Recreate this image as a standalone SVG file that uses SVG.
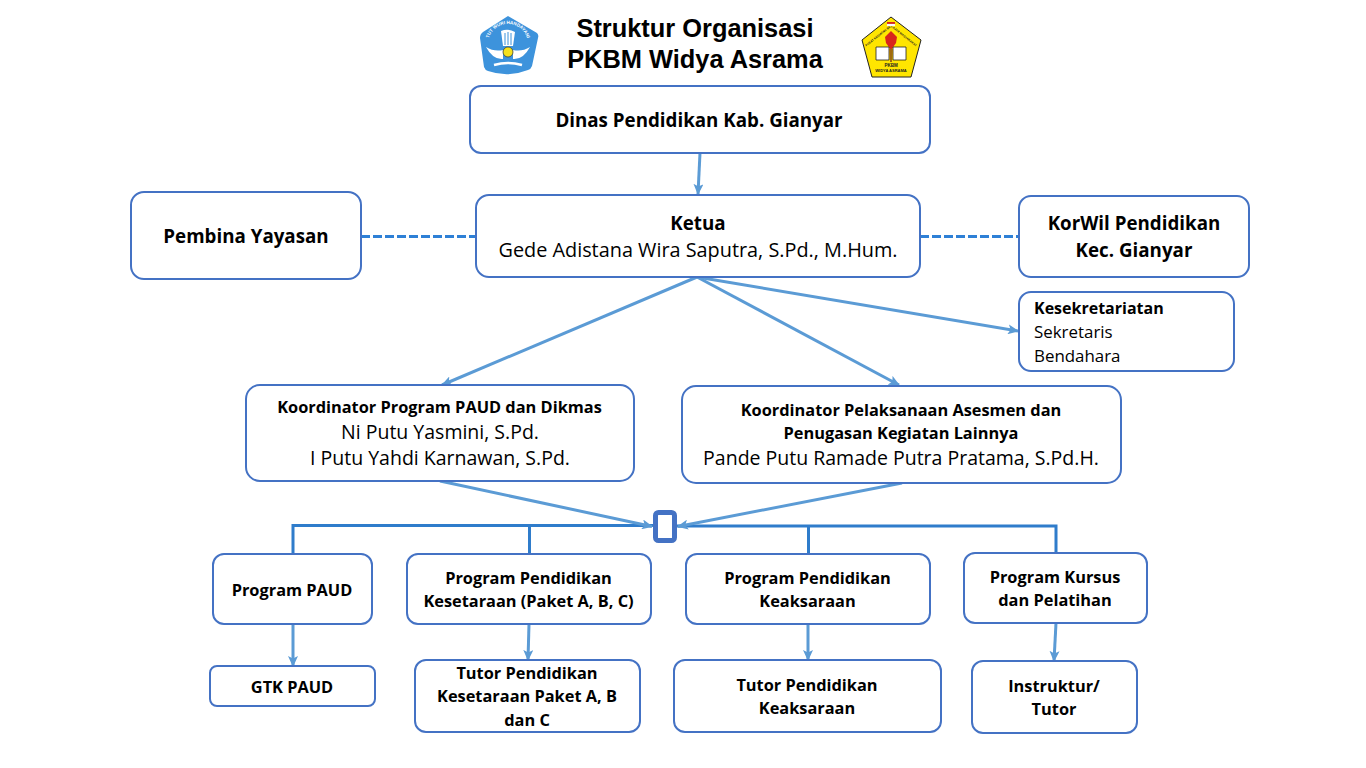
<svg xmlns="http://www.w3.org/2000/svg" width="1366" height="768" viewBox="0 0 1366 768">
<style>
.box{fill:#fff;stroke:#4472C4;stroke-width:2}
.t{font-family:"Open Sans","Noto Sans",sans-serif;fill:#000;text-anchor:middle}
.b{font-weight:700;font-size:16.35px}
.m{font-weight:700;font-size:18.75px}
.r{font-size:19.5px}
.s{font-size:16.9px;text-anchor:start}
.h{font-family:"Liberation Sans",Arial,sans-serif;font-weight:700;font-size:25.4px;text-anchor:middle;fill:#000}
.c{fill:none;stroke:#5B9BD5;stroke-width:3}
.d{fill:none;stroke:#2E80D6;stroke-width:3;stroke-dasharray:9 3}
.l{fill:none;stroke:#2F7CCB;stroke-width:3}
.lt{font-family:"Liberation Sans",Arial,sans-serif;font-weight:700;font-size:4.6px;fill:#fff;text-anchor:middle}
.lk{font-family:"Liberation Sans",Arial,sans-serif;font-weight:700;font-size:4.5px;fill:#222;text-anchor:middle}
</style>
<defs>
<marker id="a" markerUnits="userSpaceOnUse" markerWidth="12" markerHeight="10" refX="10" refY="5" orient="auto"><path d="M0 0L11 5L0 10L2.500 5Z" fill="#5B9BD5"/></marker>
<path id="arc1" d="M488 44A20 20 0 0 1 528 44"/>
<path id="arc2" d="M867 46L891 27L915 46"/>
</defs>
<rect width="1366" height="768" fill="#fff"/>
<g id="title">
<text class="h" x="695" y="37">Struktur Organisasi</text>
<text class="h" x="695" y="68">PKBM Widya Asrama</text>
</g>
<g id="logo-tutwuri">
<path d="M508 16L537 33Q539 35 538 38L532 66Q531 69 528 70Q508 78 488 71Q485 70 484 67L480 38Q480 34 483 32Z" fill="#3D93DC"/>
<text class="lt"><textPath href="#arc1" startOffset="50%">TUT WURI HANDAYANI</textPath></text>
<path d="M501 31Q508 28 515 32L513 46H503Z" fill="#fff"/>
<path d="M505 33V45M508 32V45M511 33V45" stroke="#3D93DC" stroke-width="1"/>
<path d="M486 47Q494 52 503 50L503 59Q493 60 486 47ZM530 47Q522 52 513 50L513 59Q523 60 530 47Z" fill="#fff"/>
<circle cx="508" cy="52" r="5" fill="#F5E11E" stroke="#333" stroke-width=".7"/>
<path d="M494 65Q508 61 522 65" fill="none" stroke="#fff" stroke-width="2.500"/>
</g>
<g id="logo-pkbm">
<path d="M891 17L921 40L911 77H872L862 40Z" fill="#FFE500" stroke="#222" stroke-width="1"/>
<text class="lk" style="font-size:3px"><textPath href="#arc2" startOffset="50%">PUSAT KEGIATAN BELAJAR MASYARAKAT</textPath></text>
<rect x="887" y="22" width="8" height="2" fill="#D8261C"/><rect x="887" y="24" width="8" height="2" fill="#fff" stroke="#ccc" stroke-width=".2"/>
<path d="M891 31L897 37L896 43L891 50L886 43L885 37Z" fill="#D8261C"/>
<path d="M876 47H889V60H876ZM893 47H906V60H893Z" fill="#fff" stroke="#222" stroke-width=".8"/>
<path d="M889 49H893L892 62H890Z" fill="#a06a10"/>
<text class="lk" x="891" y="67">PKBM</text>
<text class="lk" x="891" y="72" style="font-size:4px">WIDYA ASRAMA</text>
</g>
<g id="connectors">
<path class="c" d="M700 153L698 194" marker-end="url(#a)"/>
<path class="d" d="M361 236.500H476"/>
<path class="d" d="M920 236.500H1019"/>
<path class="c" d="M697 277L442 385" marker-end="url(#a)"/>
<path class="c" d="M697 277L899 385" marker-end="url(#a)"/>
<path class="c" d="M697 277L1018 331" marker-end="url(#a)"/>
<path class="l" d="M293 554V525.500H654"/>
<path class="l" d="M676 526H1056V553"/>
<path class="l" d="M529.500 525V554"/>
<path class="l" d="M808.500 526V554"/>
<path class="c" d="M440 481L652 526.500" marker-end="url(#a)"/>
<path class="c" d="M902 483L678 526.500" marker-end="url(#a)"/>
<path class="c" d="M293 624V666" marker-end="url(#a)"/>
<path class="c" d="M529 624L528 660" marker-end="url(#a)"/>
<path class="c" d="M808 624V660" marker-end="url(#a)"/>
<path class="c" d="M1056 623L1054 661" marker-end="url(#a)"/>
</g>
<g id="junction"><rect x="655.500" y="512.500" width="19" height="28" rx="3" fill="#fff" stroke="#4472C4" stroke-width="5"/></g>
<g id="dinas"><rect class="box" x="470" y="86" width="460" height="67" rx="11"/><text class="t m" x="699" y="127">Dinas Pendidikan Kab. Gianyar</text></g>
<g id="pembina"><rect class="box" x="131" y="192" width="230" height="87" rx="13"/><text class="t m" x="246" y="243">Pembina Yayasan</text></g>
<g id="ketua"><rect class="box" x="476" y="195" width="444" height="82" rx="13"/><text class="t m" x="698" y="230">Ketua</text><text class="t" x="698" y="257" style="font-size:19.850px">Gede Adistana Wira Saputra, S.Pd., M.Hum.</text></g>
<g id="korwil"><rect class="box" x="1019" y="196" width="230" height="81" rx="12"/><text class="t m" x="1134" y="230">KorWil Pendidikan</text><text class="t m" x="1134" y="257">Kec. Gianyar</text></g>
<g id="kesekretariatan"><rect class="box" x="1019" y="292" width="215" height="79" rx="12"/><text class="t" x="1034" y="314" style="text-anchor:start;font-weight:700;font-size:16px">Kesekretariatan</text><text class="t s" x="1034" y="337.500">Sekretaris</text><text class="t s" x="1034" y="361.500">Bendahara</text></g>
<g id="koord-paud"><rect class="box" x="246" y="385" width="388" height="96" rx="14"/><text class="t b" x="439.500" y="412.500">Koordinator Program PAUD dan Dikmas</text><text class="t r" x="440" y="439">Ni Putu Yasmini, S.Pd.</text><text class="t r" x="440" y="465">I Putu Yahdi Karnawan, S.Pd.</text></g>
<g id="koord-asesmen"><rect class="box" x="682" y="386" width="439" height="97" rx="14"/><text class="t b" x="901" y="415.500">Koordinator Pelaksanaan Asesmen dan</text><text class="t b" x="901" y="438.500">Penugasan Kegiatan Lainnya</text><text class="t r" x="901" y="465">Pande Putu Ramade Putra Pratama, S.Pd.H.</text></g>
<g id="prog-paud"><rect class="box" x="213" y="554" width="159" height="70" rx="11"/><text class="t b" x="292" y="595.500">Program PAUD</text></g>
<g id="prog-kesetaraan"><rect class="box" x="407" y="554" width="244" height="70" rx="11"/><text class="t b" x="528.500" y="583.500">Program Pendidikan</text><text class="t b" x="528.500" y="606.500">Kesetaraan (Paket A, B, C)</text></g>
<g id="prog-keaksaraan"><rect class="box" x="686" y="554" width="244" height="70" rx="11"/><text class="t b" x="807.500" y="583.500">Program Pendidikan</text><text class="t b" x="807.500" y="606.500">Keaksaraan</text></g>
<g id="prog-kursus"><rect class="box" x="964" y="553" width="183" height="70" rx="11"/><text class="t b" x="1055" y="582.500">Program Kursus</text><text class="t b" x="1055" y="605.500">dan Pelatihan</text></g>
<g id="gtk"><rect class="box" x="210" y="666" width="165" height="40" rx="7"/><text class="t b" x="292" y="692.500">GTK PAUD</text></g>
<g id="tutor-kesetaraan"><rect class="box" x="415" y="660" width="225" height="72" rx="11"/><text class="t b" x="527" y="678.500">Tutor Pendidikan</text><text class="t b" x="527" y="701.500">Kesetaraan Paket A, B</text><text class="t b" x="527" y="725.500">dan C</text></g>
<g id="tutor-keaksaraan"><rect class="box" x="674" y="660" width="267" height="72" rx="11"/><text class="t b" x="807" y="690.500">Tutor Pendidikan</text><text class="t b" x="807" y="713.500">Keaksaraan</text></g>
<g id="instruktur"><rect class="box" x="972" y="661" width="165" height="72" rx="11"/><text class="t b" x="1054" y="691.500">Instruktur/</text><text class="t b" x="1054" y="714.500">Tutor</text></g>
</svg>
